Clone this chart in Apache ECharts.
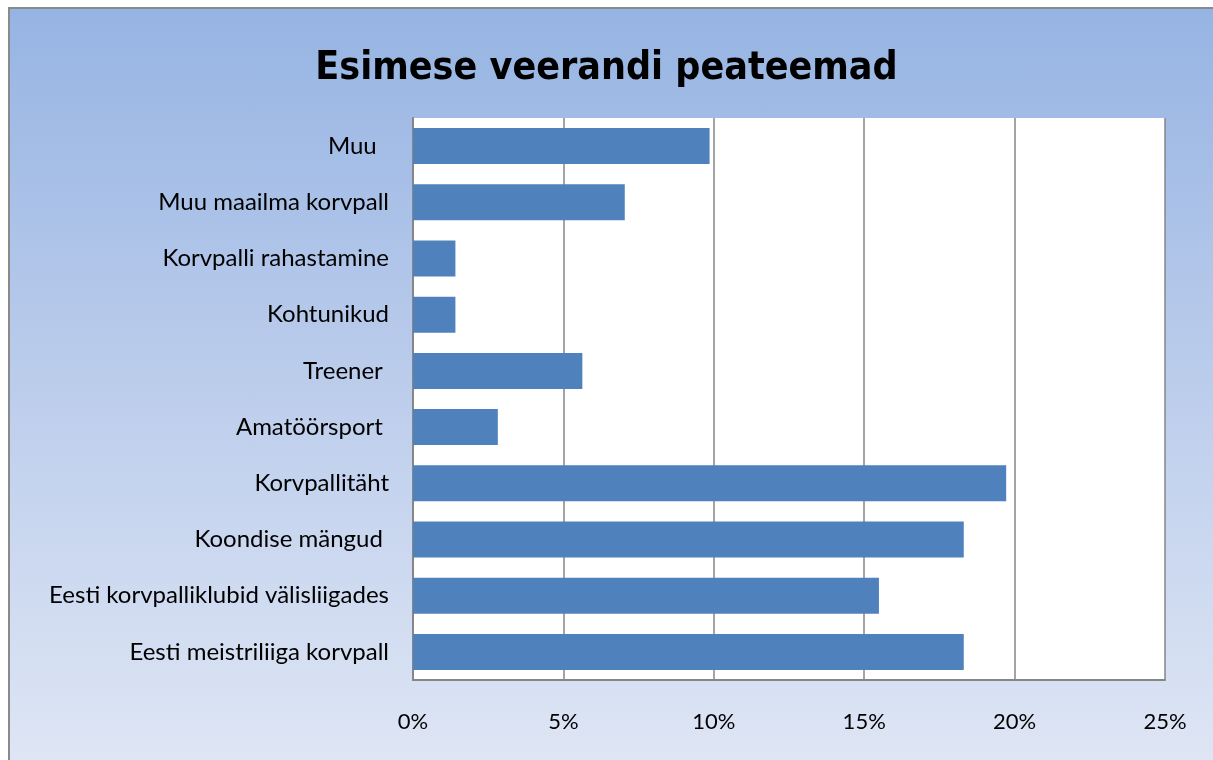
<!DOCTYPE html>
<html>
<head>
<meta charset="utf-8">
<script src="https://cdn.jsdelivr.net/npm/echarts@6/dist/echarts.min.js"></script>
<style>
  html, body { margin: 0; padding: 0; background: #fff; overflow: hidden; }
  #frame {
    position: absolute; left: 8px; top: 7px; width: 1220px; height: 770px;
    border-left: 2px solid #8a8a8a; border-top: 2px solid #8a8a8a;
    background: linear-gradient(to bottom, #96b4e3 0%, #b9cbeb 45%, #e0e7f5 100%);
  }
  #chart { position: absolute; left: 0; top: 0; width: 1213px; height: 760px; }
</style>
</head>
<body>
<div id="frame"></div>
<div id="chart"></div>
<script>
const titleText = 'Esimese veerandi peateemad'
const categories = [
  'Muu  ',
  'Muu maailma korvpall',
  'Korvpalli rahastamine',
  'Kohtunikud',
  'Treener ',
  'Amatöörsport ',
  'Korvpallitäht',
  'Koondise mängud ',
  'Eesti korvpalliklubid välisliigades',
  'Eesti meistriliiga korvpall'
]
const shares = [9.86, 7.04, 1.41, 1.41, 5.63, 2.82, 19.72, 18.31, 15.49, 18.31]
const xTicks = [0, 5, 10, 15, 20, 25]

const chart = echarts.init(document.getElementById('chart'))

const option = {
  backgroundColor: 'transparent',
  animation: false,
  title: {
    text: titleText,
    left: 'center',
    top: 44,
    textStyle: {
      fontFamily: '"Liberation Sans Narrow", "DejaVu Sans Condensed", "DejaVu Sans", sans-serif',
      fontWeight: 'bold',
      fontSize: 39,
      color: '#000'
    }
  },
  grid: {
    left: 413,
    top: 118,
    right: 48,
    bottom: 80,
    show: true,
    backgroundColor: '#fff',
    borderWidth: 0
  },
  xAxis: {
    type: 'value',
    min: xTicks[0],
    max: xTicks[xTicks.length - 1],
    interval: 5,
    axisLine: { show: true, lineStyle: { color: '#868686', width: 2 } },
    axisTick: { show: false },
    splitLine: { show: true, lineStyle: { color: '#868686', width: 1.5 } },
    axisLabel: {
      margin: 31,
      fontFamily: 'Lato, "Open Sans", sans-serif',
      fontSize: 22,
      color: '#000',
      formatter: v => v + '%'
    }
  },
  yAxis: {
    type: 'category',
    inverse: true,
    data: categories,
    axisLine: { show: true, lineStyle: { color: '#868686', width: 2 } },
    axisTick: { show: false },
    axisLabel: {
      margin: 24,
      fontFamily: 'Lato, "Open Sans", sans-serif',
      fontSize: 24,
      color: '#000'
    }
  },
  series: [
    {
      type: 'bar',
      data: shares,
      barCategoryGap: '36%',
      itemStyle: { color: '#4f81bd' }
    }
  ]
}

chart.setOption(option)
</script>
</body>
</html>
